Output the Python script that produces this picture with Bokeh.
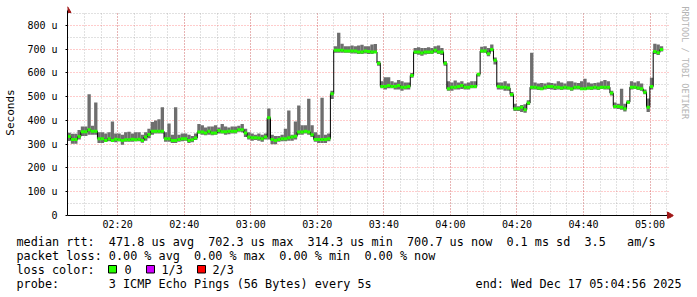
import math
import re
import pandas as pd
from bokeh.plotting import figure
from bokeh.models import (Range1d, FixedTicker, DatetimeTickFormatter, Title,
                          ColumnDataSource, Grid, Plot)
from bokeh.layouts import column
from bokeh.core.properties import value
from bokeh.embed import file_html
from bokeh.resources import INLINE

# ---------------- data ----------------
GRAPH_START = "2025-12-17 02:04:56"
GRAPH_END = "2025-12-17 05:04:56"
STEP_MINUTES = 1

median_us = [
    332, 320, 320, 332, 352, 352, 361, 355, 355, 323,
    323, 316, 323, 316, 321, 319, 316, 319, 319, 321,
    319, 321, 316, 330, 341, 355, 355, 355, 355, 323,
    323, 316, 316, 320, 323, 323, 316, 319, 326, 351,
    351, 347, 355, 347, 347, 358, 352, 352, 354, 354,
    355, 361, 361, 347, 330, 327, 327, 326, 323, 330,
    411, 320, 316, 320, 323, 323, 327, 330, 333, 351,
    351, 355, 351, 340, 320, 320, 320, 320, 323, 512,
    695, 695, 695, 692, 692, 692, 692, 688, 688, 692,
    690, 688, 688, 641, 543, 543, 547, 543, 543, 547,
    540, 540, 543, 589, 688, 688, 684, 688, 688, 688,
    695, 688, 688, 641, 533, 540, 540, 543, 547, 540,
    540, 543, 543, 594, 692, 692, 681, 698, 653, 543,
    540, 540, 536, 509, 449, 449, 455, 445, 473, 540,
    540, 536, 533, 540, 543, 543, 540, 540, 536, 540,
    536, 533, 540, 540, 533, 533, 536, 536, 540, 536,
    540, 540, 540, 515, 459, 459, 455, 449, 477, 540,
    540, 536, 533, 519, 456, 543, 690, 685, 698,
]
min_us = [
    313, 302, 302, 320, 335, 335, 340, 340, 340, 305,
    305, 310, 312, 312, 308, 312, 298, 310, 310, 310,
    312, 312, 306, 315, 325, 340, 345, 345, 345, 310,
    310, 305, 305, 310, 312, 315, 305, 308, 318, 345,
    340, 338, 340, 338, 340, 345, 345, 340, 342, 345,
    345, 352, 350, 330, 320, 315, 318, 315, 310, 320,
    320, 300, 300, 310, 312, 312, 315, 315, 320, 340,
    340, 345, 340, 330, 310, 305, 305, 305, 312, 490,
    685, 685, 685, 685, 685, 682, 682, 680, 680, 682,
    680, 680, 685, 630, 535, 530, 535, 535, 530, 530,
    525, 530, 530, 580, 680, 676, 672, 678, 680, 680,
    685, 680, 675, 630, 525, 525, 530, 530, 532, 530,
    530, 535, 535, 585, 685, 685, 670, 690, 635, 530,
    530, 525, 525, 500, 440, 440, 435, 432, 465, 530,
    530, 528, 528, 530, 532, 530, 528, 530, 528, 530,
    530, 525, 530, 530, 528, 528, 530, 528, 530, 528,
    532, 530, 530, 505, 450, 448, 445, 438, 470, 530,
    532, 528, 525, 510, 435, 530, 680, 675, 690,
]
max_us = [
    348, 344, 344, 360, 375, 375, 510, 378, 475, 350,
    350, 345, 350, 396, 345, 345, 340, 350, 352, 345,
    350, 350, 340, 350, 365, 393, 400, 405, 456, 350,
    387, 340, 455, 340, 345, 345, 340, 335, 345, 385,
    380, 370, 375, 375, 380, 370, 385, 375, 370, 375,
    375, 378, 385, 365, 350, 345, 340, 345, 340, 345,
    450, 340, 335, 335, 340, 365, 442, 340, 396, 463,
    380, 380, 491, 380, 350, 340, 495, 340, 345, 525,
    712, 769, 723, 712, 712, 715, 712, 715, 718, 712,
    712, 720, 722, 650, 565, 582, 582, 565, 560, 570,
    565, 560, 560, 600, 705, 708, 705, 705, 708, 705,
    712, 715, 705, 650, 565, 560, 568, 560, 565, 555,
    560, 565, 565, 600, 710, 712, 705, 720, 665, 560,
    560, 565, 555, 520, 470, 460, 465, 468, 485, 685,
    560, 555, 558, 555, 560, 558, 555, 565, 560, 555,
    565, 565, 560, 558, 565, 575, 560, 555, 558, 560,
    565, 570, 565, 525, 475, 470, 533, 470, 485, 565,
    560, 565, 555, 530, 492, 580, 723, 720, 712,
]

x_tick_times = ["02:20", "02:40", "03:00", "03:20", "03:40",
                "04:00", "04:20", "04:40", "05:00"]
y_ticks = [0, 100, 200, 300, 400, 500, 600, 700, 800]
y_tick_labels = ["0", "100 u", "200 u", "300 u", "400 u",
                 "500 u", "600 u", "700 u", "800 u"]
y_grid_top = 850

stats_line = ("median rtt:  471.8 us avg  702.3 us max  314.3 us min  "
              "700.7 us now  0.1 ms sd  3.5   am/s")
loss_line = "packet loss: 0.00 % avg  0.00 % max  0.00 % min  0.00 % now"
loss_title = "loss color:"
loss_colors = ["#26ff00", "#d000ff", "#ff0000"]
loss_labels = ["0", "1/3", "2/3"]
probe_line = "probe:       3 ICMP Echo Pings (56 Bytes) every 5s"
end_line = "end: Wed Dec 17 05:04:56 2025"
watermark = "RRDTOOL / TOBI OETIKER"
y_title = "Seconds"

# ---------------- layout constants ----------------
W, H = 697, 297
MAIN_H = 233
L = 67              # x of the y axis
Y0_PX = 215         # canvas y of value 0
PX_PER_U = 202.0 / 850.0
FRAME_TOP = 6
FRAME_BOT = 218
FRAME_RIGHT = 674
MONO = "DejaVu Sans Mono"
ARROW_COL = "#a01818"
LEG_FONT = "11.8px"
CHAR_W = 7.1
LEG_X0 = 16


def ms(ts):
    return pd.Timestamp(ts).value / 1e6


MIN_MS = 60_000.0
t0 = ms(GRAPH_START)
t_end = ms(GRAPH_END)
px_per_ms = 600.0 / (t_end - t0)
x_hi = t0 + (FRAME_RIGHT - L) / px_per_ms
y_lo = -(FRAME_BOT - Y0_PX) / PX_PER_U
y_hi = (Y0_PX - FRAME_TOP) / PX_PER_U

n = len(median_us)
lefts = [t0 + i * STEP_MINUTES * MIN_MS for i in range(n)]
rights = [v + STEP_MINUTES * MIN_MS for v in lefts]

p = figure(width=W, height=MAIN_H, x_axis_type="datetime",
           output_backend="svg", toolbar_location=None,
           min_border_left=L, min_border_right=W - FRAME_RIGHT,
           min_border_top=FRAME_TOP, min_border_bottom=MAIN_H - FRAME_BOT,
           x_range=Range1d(t0, x_hi), y_range=Range1d(y_lo, y_hi))
p.background_fill_color = "white"
p.border_fill_color = "white"
p.outline_line_color = None

# ---- ticks / axes ----
day = GRAPH_START[:10]
xt = [ms(f"{day} {t}:00") for t in x_tick_times]
x_minor = [ms(f"{day} 02:05:00") + i * 5 * MIN_MS for i in range(37)]
p.xaxis.ticker = FixedTicker(ticks=xt, minor_ticks=x_minor)
p.xaxis.formatter = DatetimeTickFormatter(minutes="%H:%M", hourmin="%H:%M",
                                          hours="%H:%M", minsec="%H:%M",
                                          context=None)
p.yaxis.ticker = FixedTicker(ticks=y_ticks,
                             minor_ticks=[v + 50 for v in y_ticks])
p.yaxis.major_label_overrides = {v: s for v, s in zip(y_ticks, y_tick_labels)}

for ax in (p.xaxis[0], p.yaxis[0]):
    ax.major_tick_in = 0
    ax.minor_tick_line_color = None
    ax.major_label_text_font = MONO
    ax.major_label_text_font_size = "10px"
    ax.major_label_text_color = "black"
p.xaxis.axis_line_color = None
p.xaxis.major_tick_line_color = None
p.xaxis.major_tick_out = 0
p.xaxis.major_label_standoff = -4
p.yaxis.axis_line_color = "black"
p.yaxis.major_tick_line_color = "black"
p.yaxis.major_tick_out = 2
p.yaxis.bounds = (0, (Y0_PX - 10) / PX_PER_U)
p.yaxis.major_label_standoff = 6
p.yaxis.axis_label = y_title
p.yaxis.axis_label_text_font = MONO
p.yaxis.axis_label_text_font_size = "11px"
p.yaxis.axis_label_text_font_style = "normal"
p.yaxis.axis_label_text_color = "black"
p.yaxis.axis_label_standoff = 7

grid_x_end = t_end + 0.6 * MIN_MS
has_cross = "cross_bounds" in Grid.properties()
for g in (p.xgrid[0], p.ygrid[0]):
    g.grid_line_color = "#ff0000"
    g.grid_line_alpha = 0.4
    g.grid_line_dash = "1 2"
    g.minor_grid_line_color = "#9a9a9a"
    g.minor_grid_line_alpha = 0.6
    g.minor_grid_line_dash = "1 2"
if has_cross:
    p.xgrid[0].cross_bounds = (0, y_grid_top)
    p.ygrid[0].cross_bounds = (t0, grid_x_end)
p.ygrid[0].bounds = (0, y_grid_top)

# ---- smoke band, median line, loss-coloured median ----
src = ColumnDataSource(dict(left=lefts, right=rights, lo=min_us, hi=max_us,
                            med=median_us))
p.quad(left="left", right="right", bottom="lo", top="hi", source=src,
       fill_color="#6e6e6e", line_color=None)
p.step(x=lefts + [rights[-1]], y=median_us + [median_us[-1]], mode="after",
       line_color="black", line_width=1)
p.segment(x0="left", x1="right", y0="med", y1="med", source=src,
          line_color=loss_colors[0], line_width=3)

# ---- x axis line and arrows ----
x_arrow = t0 + (670 - L) / px_per_ms
y_arrow = (Y0_PX - 10) / PX_PER_U
p.segment(x0=[t0], y0=[0], x1=[x_arrow], y1=[0], line_color="black",
          line_width=1)
p.scatter(x=[x_arrow], y=[0], marker="triangle", angle=-math.pi / 2,
          size=7, fill_color=ARROW_COL, line_color=ARROW_COL)
p.scatter(x=[t0], y=[y_arrow], marker="triangle", size=7,
          fill_color=ARROW_COL, line_color=ARROW_COL)

# ---- watermark on the right ----
p.add_layout(Title(text=watermark, align="left", text_font=MONO,
                   text_font_size="8.5px", text_font_style="normal",
                   text_color="#b4b4b4", standoff=12, offset=0), "right")

# ---------------- legend block ----------------
q = figure(width=W, height=H - MAIN_H, output_backend="svg",
           toolbar_location=None, min_border=0,
           x_range=Range1d(0, W), y_range=Range1d(H, MAIN_H))
q.axis.visible = False
q.grid.visible = False
q.outline_line_color = None
q.background_fill_color = "white"
q.border_fill_color = "white"
if "frame_align" in Plot.properties():
    p.frame_align = False
    q.frame_align = False


def pieces(line, x0=LEG_X0):
    """split a fixed-width legend line into runs placed on its columns"""
    xs, ts = [], []
    for m in re.finditer(r"\S+(?: \S+)*", line):
        xs.append(x0 + m.start() * CHAR_W)
        ts.append(m.group(0))
    return xs, ts


rows_y = [241, 255.5, 269, 283.5]
all_x, all_y, all_t = [], [], []
for line, yy in zip([stats_line, loss_line, loss_title, probe_line], rows_y):
    xs, ts = pieces(line)
    all_x += xs
    all_t += ts
    all_y += [yy] * len(xs)
q.text(x=all_x, y=all_y, text=all_t, text_font=value(MONO),
       text_font_size=value(LEG_FONT), text_baseline="middle",
       text_color="black")
q.text(x=[681], y=[rows_y[3]], text=[end_line], text_font=value(MONO),
       text_font_size=value(LEG_FONT), text_baseline="middle",
       text_align="right", text_color="black")
box_x = [108, 146, 197]
lab_x = [124, 161, 212]
q.quad(left=box_x, right=[b + 8 for b in box_x],
       top=[265] * 3, bottom=[272.5] * 3,
       fill_color=loss_colors, line_color="black", line_width=1)
q.text(x=lab_x, y=[rows_y[2]] * 3, text=loss_labels,
       text_font=value(MONO), text_font_size=value(LEG_FONT),
       text_baseline="middle", text_color="black")

layout = column(p, q, spacing=0)
open("out.html", "w").write(file_html(layout, INLINE))
